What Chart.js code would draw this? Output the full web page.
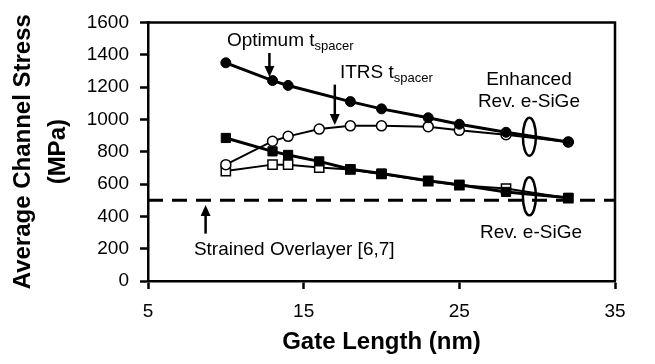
<!DOCTYPE html>
<html>
<head>
<meta charset="utf-8">
<script src="https://cdn.jsdelivr.net/npm/chart.js@4.4.1/dist/chart.umd.min.js"></script>
<style>
  html, body { margin: 0; padding: 0; background: #fff; }
  canvas { display: block; }
</style>
</head>
<body>
<canvas id="stressChart" width="655" height="364"></canvas>
<script>
// gate length (nm) for each series
const gateLength = [10, 13, 14, 16, 18, 20, 23, 25, 28, 32];
const gateLengthOpt = [10, 13, 14, 18, 20, 23, 25, 28, 32];

// average channel stress (MPa)
const enhancedOptimum = [1350, 1240, 1210, 1110, 1065, 1010, 970, 920, 860];
const enhancedItrs = [720, 865, 895, 940, 960, 960, 955, 932, 905, 860];
const revOptimum = [885, 802, 780, 740, 692, 665, 620, 595, 551, 515];
const revItrs = [680, 720, 720, 702, 690, 662, 618, 593, 572, 512];

// strained overlayer reference level
const overlayerX = [5, 35];
const overlayerStress = [500, 500];

const xTicks = [5, 15, 25, 35];
const yTicks = [0, 200, 400, 600, 800, 1000, 1200, 1400, 1600];

const FONT = "'Liberation Sans', Arial, sans-serif";

function toPoints(xs, ys) {
  return xs.map((x, i) => ({ x: x, y: ys[i] }));
}

// annotations, placed in data units
const labels = [
  { text: "Optimum t", sub: "spacer", x: 10.07, y: 1453, align: "left" },
  { text: "ITRS t", sub: "spacer", x: 17.33, y: 1258, align: "left" },
  { text: "Enhanced", x: 29.47, y: 1215, align: "center" },
  { text: "Rev. e-SiGe", x: 29.47, y: 1075, align: "center" },
  { text: "Rev. e-SiGe", x: 29.6, y: 269, align: "center" },
  { text: "Strained Overlayer [6,7]", x: 7.95, y: 159, align: "left" }
];
const arrows = [
  { x: 12.8, from: 1411, to: 1262 },
  { x: 17.0, from: 1215, to: 965 },
  { x: 8.7, from: 293, to: 470 }
];
const ellipses = [
  { x: 29.5, y: 893 },
  { x: 29.5, y: 524 }
];

const annotationPlugin = {
  id: "annotations",
  afterDatasetsDraw(chart) {
    const { ctx, chartArea } = chart;
    const xs = chart.scales.x;
    const ys = chart.scales.y;
    ctx.save();

    // top and right frame
    ctx.strokeStyle = "#000";
    ctx.lineWidth = 2.5;
    ctx.beginPath();
    ctx.moveTo(chartArea.left, chartArea.top);
    ctx.lineTo(chartArea.right, chartArea.top);
    ctx.lineTo(chartArea.right, chartArea.bottom);
    ctx.stroke();

    ctx.fillStyle = "#000";
    ctx.textBaseline = "alphabetic";
    labels.forEach(l => {
      const px = xs.getPixelForValue(l.x);
      const py = ys.getPixelForValue(l.y);
      ctx.font = `19px ${FONT}`;
      ctx.textAlign = l.align;
      ctx.fillText(l.text, px, py);
      if (l.sub) {
        const w = ctx.measureText(l.text).width;
        ctx.font = `13px ${FONT}`;
        ctx.textAlign = "left";
        ctx.fillText(l.sub, px + w, py + 4);
      }
    });

    arrows.forEach(a => {
      const px = xs.getPixelForValue(a.x);
      const y0 = ys.getPixelForValue(a.from);
      const y1 = ys.getPixelForValue(a.to);
      const dir = y1 > y0 ? 1 : -1;
      ctx.lineWidth = 2.5;
      ctx.beginPath();
      ctx.moveTo(px, y0);
      ctx.lineTo(px, y1 - dir * 8);
      ctx.stroke();
      ctx.beginPath();
      ctx.moveTo(px, y1);
      ctx.lineTo(px - 5, y1 - dir * 11);
      ctx.lineTo(px + 5, y1 - dir * 11);
      ctx.closePath();
      ctx.fill();
    });

    ellipses.forEach(e => {
      ctx.lineWidth = 2.5;
      ctx.beginPath();
      ctx.ellipse(xs.getPixelForValue(e.x), ys.getPixelForValue(e.y), 6.5, 19, 0, 0, Math.PI * 2);
      ctx.stroke();
    });

    ctx.restore();
  }
};

const ctx = document.getElementById("stressChart").getContext("2d");

new Chart(ctx, {
  type: "line",
  data: {
    datasets: [
      {
        label: "Enhanced Rev. e-SiGe, optimum",
        data: toPoints(gateLengthOpt, enhancedOptimum),
        borderColor: "#000",
        backgroundColor: "#000",
        borderWidth: 3,
        pointStyle: "circle",
        pointRadius: 5,
        pointBorderWidth: 1,
        tension: 0
      },
      {
        label: "Rev. e-SiGe, optimum",
        data: toPoints(gateLength, revOptimum),
        borderColor: "#000",
        backgroundColor: "#000",
        borderWidth: 3,
        pointStyle: "rect",
        pointRadius: 6.5,
        pointBorderWidth: 1,
        tension: 0
      },
      {
        label: "Enhanced Rev. e-SiGe, ITRS",
        data: toPoints(gateLength, enhancedItrs),
        borderColor: "#000",
        backgroundColor: "#fff",
        borderWidth: 2,
        pointStyle: "circle",
        pointRadius: 5,
        pointBorderWidth: 1.5,
        tension: 0
      },
      {
        label: "Rev. e-SiGe, ITRS",
        data: toPoints(gateLength, revItrs),
        borderColor: "#000",
        backgroundColor: "#fff",
        borderWidth: 2,
        pointStyle: "rect",
        pointRadius: 6.5,
        pointBorderWidth: 1.5,
        tension: 0
      },
      {
        label: "Strained Overlayer",
        data: toPoints(overlayerX, overlayerStress),
        borderColor: "#000",
        borderWidth: 3,
        borderDash: [15, 9],
        pointRadius: 0
      }
    ]
  },
  plugins: [annotationPlugin],
  options: {
    responsive: false,
    animation: false,
    layout: { padding: { top: 19, right: 40, left: 0, bottom: 0 } },
    plugins: {
      legend: { display: false },
      tooltip: { enabled: false }
    },
    scales: {
      x: {
        type: "linear",
        min: 5,
        max: 35,
        afterBuildTicks: scale => { scale.ticks = xTicks.map(v => ({ value: v })); },
        afterFit: scale => { scale.height = 83; },
        border: { display: true, color: "#000", width: 2.5 },
        grid: { display: true, drawOnChartArea: false, drawTicks: true, tickLength: 8, tickWidth: 2.5, tickColor: "#000" },
        ticks: { color: "#000", padding: 11, maxRotation: 0, font: { family: FONT, size: 19 }, callback: v => String(v) },
        title: {
          display: true,
          text: "Gate Length (nm)",
          color: "#000",
          padding: { top: 0, bottom: 7 },
          font: { family: FONT, size: 24, weight: "bold" }
        }
      },
      y: {
        min: 0,
        max: 1600,
        afterBuildTicks: scale => { scale.ticks = yTicks.map(v => ({ value: v })); },
        afterFit: scale => { scale.width = 148; },
        border: { display: true, color: "#000", width: 2.5 },
        grid: { display: true, drawOnChartArea: false, drawTicks: true, tickLength: 8, tickWidth: 2.5, tickColor: "#000" },
        ticks: { color: "#000", padding: 11, font: { family: FONT, size: 19 }, callback: v => String(v) },
        title: {
          display: true,
          text: ["Average Channel Stress", "(MPa)"],
          color: "#000",
          padding: { top: 6, bottom: 0 },
          font: { family: FONT, size: 24, weight: "bold", lineHeight: 1.45 }
        }
      }
    }
  }
});
</script>
</body>
</html>
